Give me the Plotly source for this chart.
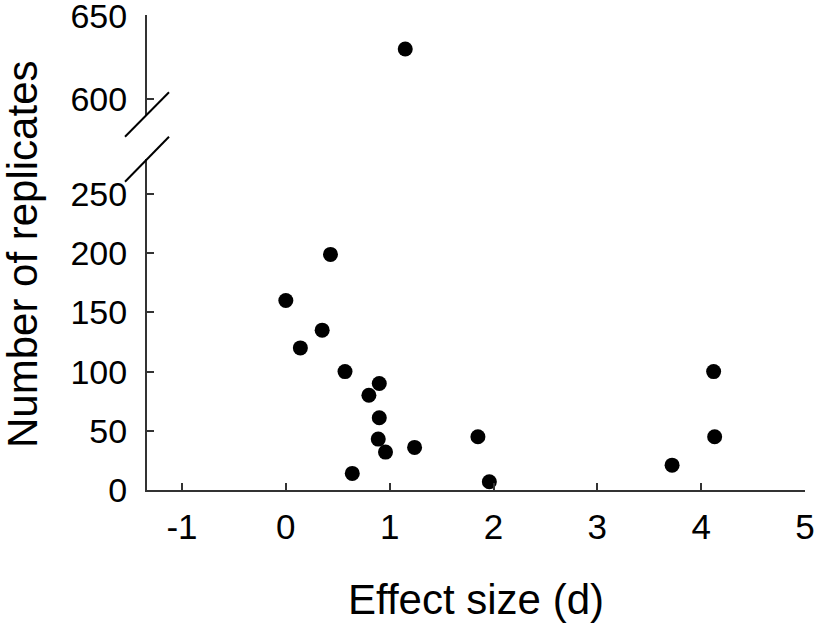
import plotly.graph_objects as go

# Data (effect size d, number of replicates)
effect_low = [0.00, 0.14, 0.35, 0.43, 0.57, 0.80, 0.90, 0.90, 0.89, 0.96, 0.64,
              1.24, 1.85, 1.96, 3.72, 4.13, 4.12]
reps_low = [160, 120, 135, 199, 100, 80, 90, 61, 43, 32, 14,
            36, 45, 7, 21, 45, 100]
effect_high = [1.15]
reps_high = [630]

x_ticks = [-1, 0, 1, 2, 3, 4, 5]
x_tick_text = ["-1", "0", "1", "2", "3", "4", "5"]
y_ticks_low = [0, 50, 100, 150, 200, 250]
y_ticks_high = [600, 650]

FONT = "Liberation Sans, Arial, sans-serif"
AX = "#333333"

fig = go.Figure()
fig.add_trace(go.Scatter(x=effect_low, y=reps_low, mode="markers",
                         marker=dict(size=15, color="black"),
                         xaxis="x", yaxis="y", showlegend=False))
fig.add_trace(go.Scatter(x=effect_high, y=reps_high, mode="markers",
                         marker=dict(size=15, color="black"),
                         xaxis="x2", yaxis="y2", showlegend=False))

W, H = 816, 625
L, R, T, B = 147, 11, 15, 135
pw, ph = W - L - R, H - T - B

def px(x):
    return (x - L) / pw

def py(y):
    return (H - B - y) / ph

low_top = py(159.2)
high_bot = py(114.5)

yax_common = dict(ticks="inside", ticklen=7, tickwidth=2, tickcolor=AX,
                  showline=True, linecolor=AX, linewidth=2,
                  showgrid=False, zeroline=False, automargin=False,
                  ticklabeloverflow="allow", ticklabelstandoff=11,
                  tickfont=dict(size=34))

fig.update_layout(
    width=W, height=H,
    margin=dict(l=L, r=R, t=T, b=B, autoexpand=False),
    paper_bgcolor="white", plot_bgcolor="white",
    font=dict(family=FONT, color="black", size=34),
    xaxis=dict(domain=[0, 1], range=[-1.337, 5], tickvals=x_ticks,
               ticktext=x_tick_text,
               ticks="inside", ticklen=7, tickwidth=2, tickcolor=AX,
               showline=True, linecolor=AX, linewidth=2,
               showgrid=False, zeroline=False, anchor="y", automargin=False,
               ticklabeloverflow="allow", ticklabelstandoff=5,
               tickfont=dict(size=35),
               title=dict(text="Effect size (d)", font=dict(size=42), standoff=40)),
    yaxis=dict(domain=[0, low_top], range=[0, 279.4], tickvals=y_ticks_low,
               anchor="x", **yax_common),
    xaxis2=dict(domain=[0, 1], matches="x", visible=False, anchor="y2"),
    yaxis2=dict(domain=[high_bot, 1], range=[590.7, 650.4], tickvals=y_ticks_high,
                anchor="x2", **yax_common),
)

# y-axis title spanning both panels
fig.add_annotation(text="Number of replicates", textangle=-90,
                   x=px(23), y=py(254), xref="paper", yref="paper",
                   showarrow=False, font=dict(size=42),
                   xanchor="center", yanchor="middle")

# axis break marks
for (x0, y0, x1, y1) in [(125, 136.7, 169, 92.3), (125, 181.7, 169, 136.7)]:
    fig.add_shape(type="line", xref="paper", yref="paper",
                  x0=px(x0), y0=py(y0), x1=px(x1), y1=py(y1),
                  line=dict(color="black", width=2))

fig.write_html("out.html", config={"displayModeBar": False},
               post_script="document.body.style.margin='0';document.body.style.overflow='hidden';")
